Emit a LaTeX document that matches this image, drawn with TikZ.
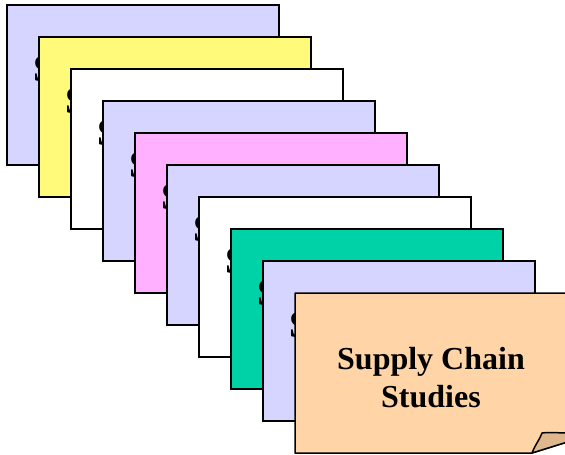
\documentclass[tikz,border=0pt]{standalone}
\usepackage{fontspec}
\setmainfont{Liberation Serif}
\usepackage{xcolor}
\usepackage{tikz}
\usetikzlibrary{positioning, calc}

\definecolor{lavender}{RGB}{213,213,255}
\definecolor{lemon}{RGB}{255,250,122}
\definecolor{orchid}{RGB}{255,176,255}
\definecolor{seagreen}{RGB}{0,210,168}
\definecolor{peach}{RGB}{255,213,168}
\definecolor{foldtan}{RGB}{222,183,140}

\begin{document}
\begin{tikzpicture}[x=1pt, y=-1pt,
    card/.style={draw, line width=1.5pt, outer sep=0pt, inner sep=0pt,
      minimum width=272pt, minimum height=160pt, anchor=north west},
    edge/.style={line width=1.5pt, line join=round},
    peek/.style={anchor=base west, inner sep=0pt, font=\bfseries\fontsize{38}{40}\selectfont},
    title/.style={align=center, inner sep=0pt, font=\bfseries\fontsize{32}{38}\selectfont}]
      \useasboundingbox (0,0) rectangle (565,455);

      % stack of cards, each one shifted down and right
      \node[card, fill=lavender] (c1) at (7,5) {};
      \node[peek] (s1) at ($(c1.north west)+(26,76)$) {S};
      \node[card, fill=lemon, below right=32pt and 32pt of c1.north west] (c2) {};
      \node[peek] (s2) at ($(c2.north west)+(26,76)$) {S};
      \node[card, fill=white, below right=32pt and 32pt of c2.north west] (c3) {};
      \node[peek] (s3) at ($(c3.north west)+(26,76)$) {S};
      \node[card, fill=lavender, below right=32pt and 32pt of c3.north west] (c4) {};
      \node[peek] (s4) at ($(c4.north west)+(26,76)$) {S};
      \node[card, fill=orchid, below right=32pt and 32pt of c4.north west] (c5) {};
      \node[peek] (s5) at ($(c5.north west)+(26,76)$) {S};
      \node[card, fill=lavender, below right=32pt and 32pt of c5.north west] (c6) {};
      \node[peek] (s6) at ($(c6.north west)+(26,76)$) {S};
      \node[card, fill=white, below right=32pt and 32pt of c6.north west] (c7) {};
      \node[peek] (s7) at ($(c7.north west)+(26,76)$) {S};
      \node[card, fill=seagreen, below right=32pt and 32pt of c7.north west] (c8) {};
      \node[peek] (s8) at ($(c8.north west)+(26,76)$) {S};
      \node[card, fill=lavender, below right=32pt and 32pt of c8.north west] (c9) {};
      \node[peek] (s9) at ($(c9.north west)+(26,76)$) {S};

      % front card with the folded corner
      \node[card, draw=none, fill=peach, below right=32pt and 32pt of c9.north west] (c10) {};
      \fill[white] ($(c10.south east)+(-35,0)$) -- ($(c10.south east)+(0,-11)$)
        -- ($(c10.south east)+(3,3)$) -- cycle;
      \draw[edge] (c10.south west) -- (c10.north west) -- (c10.north east)
        -- ($(c10.south east)+(0,-11)$) -- ($(c10.south east)+(-35,0)$) -- cycle;
      \draw[edge, fill=foldtan] ($(c10.south east)+(-35,0)$)
        .. controls +(3,-8) and +(-2,6) .. ($(c10.south east)+(-25,-20)$)
        .. controls +(8,-1) and +(-10,0) .. ($(c10.south east)+(2,-20)$)
        -- ($(c10.south east)+(2,-11.5)$) -- cycle;
      \node[title] (t10) at ([yshift=-5pt]c10.center) {Supply Chain\\Studies};
    \end{tikzpicture}
\end{document}
